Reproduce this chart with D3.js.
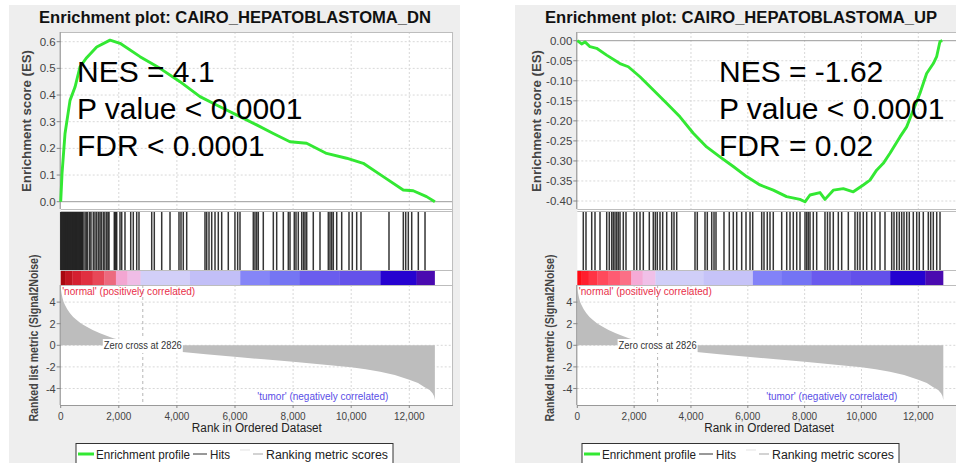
<!DOCTYPE html>
<html>
<head>
<meta charset="utf-8">
<script src="https://cdn.jsdelivr.net/npm/d3@7"></script>
<style>
  body { margin: 0; background: #fff; }
  svg text { font-family: "Liberation Sans", Arial, sans-serif; }
</style>
</head>
<body>
<div id="chart"></div>
<script>
// ---- data ----
var xTicks = [0, 2000, 4000, 6000, 8000, 10000, 12000];
var esTicksDn = [0, 0.1, 0.2, 0.3, 0.4, 0.5, 0.6];
var esTicksUp = [0, -0.05, -0.10, -0.15, -0.20, -0.25, -0.30, -0.35, -0.40];
var metricTicks = [4, 2, 0, -2, -4];
var zeroCross = 2826;

// running enrichment score, DN gene set
var esDnRanks = [0, 46, 149, 321, 493, 665, 894, 1239, 1698, 2042, 2730, 3418, 4106, 4795, 5483, 6171, 6744, 7318, 7891, 8465, 9153, 9841, 10415, 11103, 11791, 12135, 12594, 12881];
var esDnValues = [0, 0.106, 0.256, 0.38, 0.43, 0.506, 0.54, 0.58, 0.606, 0.594, 0.544, 0.50, 0.45, 0.394, 0.356, 0.319, 0.288, 0.256, 0.225, 0.219, 0.181, 0.163, 0.144, 0.094, 0.044, 0.041, 0.019, 0];

// running enrichment score, UP gene set
var esUpRanks = [0, 152, 270, 446, 680, 1032, 1501, 1795, 2205, 2675, 3144, 3613, 4082, 4551, 5020, 5490, 5959, 6428, 6897, 7366, 7835, 8012, 8188, 8540, 8716, 9009, 9360, 9712, 10064, 10299, 10533, 10768, 11003, 11355, 11590, 11824, 12059, 12293, 12528, 12645, 12762, 12844];
var esUpValues = [0, -0.008, -0.003, -0.015, -0.019, -0.036, -0.057, -0.065, -0.09, -0.123, -0.156, -0.19, -0.231, -0.265, -0.29, -0.314, -0.339, -0.36, -0.373, -0.389, -0.396, -0.402, -0.385, -0.379, -0.396, -0.373, -0.369, -0.377, -0.36, -0.348, -0.323, -0.306, -0.281, -0.24, -0.215, -0.173, -0.131, -0.082, -0.057, -0.04, -0.002, 0];

// positions of gene set members in the ranked list
var hitsDn = [0, 25, 50, 75, 100, 125, 150, 175, 200, 225, 250, 275, 300, 325, 350, 375, 400, 425, 450, 475, 500, 525, 550, 575, 600, 625, 650, 675, 700, 725, 750, 770,
  836, 880, 929, 1000, 1043, 1122, 1180, 1239, 1300, 1353, 1400, 1466, 1520, 1583, 1630, 1663, 1845, 1870, 1900, 1928, 2041, 2100, 2213, 2410, 2499, 2616, 2695,
  3133, 3222, 3477, 3763, 4072, 4141, 4220, 4337, 4967, 5026, 5105, 5198, 5312, 5425, 5542, 5769, 5998, 6091, 6172,
  6630, 6688, 6747, 6802, 6974, 7319, 7435, 7663, 7835, 7894, 8041, 8100, 8179, 8296, 8358, 8410, 8468, 8695, 8926,
  9212, 9270, 9329, 9384, 9501, 9673, 9924, 10038, 10189, 10337, 11301, 11794, 11876, 11966, 12083, 12310, 12541];
var hitsUp = [211, 306, 507, 623, 799, 1035, 1126, 1211, 1267, 1327, 1387, 1443, 1503, 1619, 1714, 1995, 2090, 2207, 2323, 2534, 2674, 2745, 2815, 2910, 3005,
  3146, 3322, 3403, 3498, 4142, 4223, 4494, 4575, 4730, 4811, 4881, 5162, 5349, 5490, 5609, 5785, 5937, 6078, 6173,
  6489, 6570, 6686, 6781, 6897, 7193, 7369, 7485, 7601, 7721, 7837, 8013, 8073, 8129, 8189, 8305, 8424, 8716, 8804, 8892,
  9009, 9185, 9304, 9537, 9772, 9860, 9948, 10064, 10184, 10360, 10476, 10652, 10828, 11064, 11145, 11240, 11331, 11416,
  11497, 11592, 11683, 11824, 11944, 12035, 12176, 12352, 12436, 12528, 12648, 12764];

// ranked list metric (Signal2Noise), shared by both plots
var metricRanks = [0, 30, 60, 100, 148, 220, 320, 430, 551, 700, 895, 1100, 1353, 1600, 1811, 2041, 2300, 2550, 2826, 3200, 3600, 4107, 5000, 6172, 7000, 8000, 9000, 10000, 10500, 11000, 11500, 12000, 12300, 12500, 12700, 12800, 12850, 12880];
var metricValues = [5.3, 4.8, 4.4, 4.0, 3.73, 3.35, 2.96, 2.62, 2.34, 2.02, 1.72, 1.42, 1.11, 0.86, 0.65, 0.49, 0.32, 0.16, 0, -0.15, -0.35, -0.59, -0.82, -1.11, -1.3, -1.52, -1.77, -2.04, -2.22, -2.44, -2.75, -3.2, -3.5, -3.83, -4.15, -4.44, -4.7, -5.06];

// heat bar under the hits: rank breaks and colours
var barBreaks = [0, 150, 400, 700, 1100, 1500, 1900, 2300, 2750, 4450, 6180, 7200, 8230, 9600, 11010, 12250, 12870];
var barColorsDn = ["#a80810", "#c01520", "#d42030", "#e03040", "#e84858", "#ec6a7e", "#f3a6d2", "#efbde6", "#d2cff8", "#c2bff7", "#8585f7", "#7575f3", "#6a5cee", "#6452ea", "#2602d0", "#4a0ab0"];
var barColorsUp = ["#ff0a14", "#ff1e2e", "#ff3444", "#ff4a5c", "#fe5c72", "#fb6f86", "#f5aad6", "#f0c0e8", "#d0cef8", "#c6c3f8", "#8282f8", "#7474f4", "#6a5aee", "#6350ea", "#2402d0", "#4a0ab0"];

var statsDn = ["NES = 4.1", "P value < 0.0001", "FDR < 0.0001"];
var statsUp = ["NES = -1.62", "P value < 0.0001", "FDR = 0.02"];

var W = 956, H = 463;

var svg = d3.select("#chart")
    .append("svg")
    .attr("width", W)
    .attr("height", H);

var panels = [
    { title: "Enrichment plot: CAIRO_HEPATOBLASTOMA_DN", bgX: 9, bgW: 451, plotL: 60.7, w12: 348.6,
      esDomain: [0, 0.6], esRange: [201.7, 41.7], esTicks: esTicksDn, esDigits: 1, esLabelX: 27,
      esRanks: esDnRanks, esValues: esDnValues, hits: hitsDn, barColors: barColorsDn,
      stats: statsDn, statsX: 77 },
    { title: "Enrichment plot: CAIRO_HEPATOBLASTOMA_UP", bgX: 515, bgW: 441, plotL: 577.3, w12: 341,
      esDomain: [0, -0.4], esRange: [40.7, 201], esTicks: esTicksUp, esDigits: 2, esLabelX: 537,
      esRanks: esUpRanks, esValues: esUpValues, hits: hitsUp, barColors: barColorsUp,
      stats: statsUp, statsX: 719 }
];

var esTop = 32, esBottom = 209, hitTop = 211, barTop = 270, barBottom = 285, rankBottom = 405;

function fmtTick(v, digits) {
    return v.toFixed(digits).replace("\u2212", "-");
}

function drawPanel(p) {
    var g = svg.append("g");
    var plotR = Math.min(p.plotL + p.w12 * 13505 / 12000, W + 5);

    var x = d3.scaleLinear().domain([0, 12000]).range([p.plotL, p.plotL + p.w12]);
    var yEs = d3.scaleLinear().domain(p.esDomain).range(p.esRange);
    var yMetric = d3.scaleLinear().domain([-4, 4]).range([388.5, 302.1]);

    // panel background
    g.append("rect")
        .attr("x", p.bgX).attr("y", 5)
        .attr("width", p.bgW).attr("height", H - 5)
        .attr("fill", "#eeeeee");

    g.append("text")
        .attr("x", p.bgX + 226).attr("y", 23)
        .attr("text-anchor", "middle")
        .attr("font-size", 16)
        .attr("font-weight", "bold")
        .attr("fill", "#111")
        .attr("textLength", 392)
        .attr("lengthAdjust", "spacingAndGlyphs")
        .text(p.title);

    // plot boxes
    g.append("rect")
        .attr("x", p.plotL).attr("y", esTop)
        .attr("width", plotR - p.plotL).attr("height", rankBottom - esTop)
        .attr("fill", "#fff");

    // ES gridlines
    g.selectAll(".vgridEs")
        .data(xTicks.slice(1))
        .enter().append("line")
        .attr("x1", function(d) { return x(d); }).attr("x2", function(d) { return x(d); })
        .attr("y1", esTop).attr("y2", esBottom)
        .attr("stroke", "#d8d8d8").attr("stroke-dasharray", "2,2");
    g.selectAll(".hgridEs")
        .data(p.esTicks.slice(1))
        .enter().append("line")
        .attr("x1", p.plotL).attr("x2", plotR)
        .attr("y1", function(d) { return yEs(d); }).attr("y2", function(d) { return yEs(d); })
        .attr("stroke", "#d8d8d8").attr("stroke-dasharray", "2,2");
    g.append("line")
        .attr("x1", p.plotL).attr("x2", plotR)
        .attr("y1", yEs(0)).attr("y2", yEs(0))
        .attr("stroke", "#9a9a9a");

    // ranked gridlines
    g.selectAll(".vgridRank")
        .data(xTicks.slice(1))
        .enter().append("line")
        .attr("x1", function(d) { return x(d); }).attr("x2", function(d) { return x(d); })
        .attr("y1", barBottom).attr("y2", rankBottom)
        .attr("stroke", "#d8d8d8").attr("stroke-dasharray", "2,2");
    g.selectAll(".hgridRank")
        .data(metricTicks)
        .enter().append("line")
        .attr("x1", p.plotL).attr("x2", plotR)
        .attr("y1", function(d) { return yMetric(d); }).attr("y2", function(d) { return yMetric(d); })
        .attr("stroke", "#d8d8d8").attr("stroke-dasharray", "2,2");

    // separators
    [esTop, esBottom, hitTop, barTop, barBottom].forEach(function(yy) {
        g.append("line")
            .attr("x1", p.plotL).attr("x2", plotR)
            .attr("y1", yy + 0.5).attr("y2", yy + 0.5)
            .attr("stroke", "#bdbdbd");
    });
    g.append("line")
        .attr("x1", p.plotL).attr("x2", plotR)
        .attr("y1", rankBottom + 0.5).attr("y2", rankBottom + 0.5)
        .attr("stroke", "#999");
    g.append("line")
        .attr("x1", plotR - 0.5).attr("x2", plotR - 0.5)
        .attr("y1", esTop).attr("y2", rankBottom)
        .attr("stroke", "#bdbdbd");

    // hits
    g.selectAll(".hit")
        .data(p.hits)
        .enter().append("line")
        .attr("x1", function(d) { return x(d); }).attr("x2", function(d) { return x(d); })
        .attr("y1", hitTop + 1).attr("y2", barTop)
        .attr("stroke", "#1f1f1f").attr("stroke-width", 1.5)
        .attr("stroke-opacity", 0.9);

    // heat bar
    g.selectAll(".bar")
        .data(p.barColors)
        .enter().append("rect")
        .attr("x", function(d, i) { return x(barBreaks[i]); })
        .attr("width", function(d, i) { return x(barBreaks[i + 1]) - x(barBreaks[i]) + 0.3; })
        .attr("y", barTop + 1).attr("height", barBottom - barTop - 1)
        .attr("fill", function(d) { return d; });

    // ranked metric fill
    var area = d3.area()
        .x(function(d) { return x(d[0]); })
        .y0(yMetric(0))
        .y1(function(d) { return yMetric(d[1]); });
    g.append("path")
        .datum(metricRanks.map(function(r, i) { return [r, metricValues[i]]; }))
        .attr("d", area)
        .attr("fill", "#bdbdbd");

    // zero cross marker
    g.append("line")
        .attr("x1", x(zeroCross)).attr("x2", x(zeroCross))
        .attr("y1", barBottom).attr("y2", rankBottom)
        .attr("stroke", "#b5b5b5").attr("stroke-dasharray", "3,3");
    g.append("rect")
        .attr("x", x(zeroCross) - 40).attr("y", 339)
        .attr("width", 80).attr("height", 14)
        .attr("fill", "#fff");
    g.append("text")
        .attr("x", x(zeroCross)).attr("y", 349)
        .attr("text-anchor", "middle")
        .attr("font-size", 10)
        .attr("fill", "#333")
        .attr("textLength", 78)
        .attr("lengthAdjust", "spacingAndGlyphs")
        .text("Zero cross at " + zeroCross);

    g.append("text")
        .attr("x", p.plotL + 1.5).attr("y", 295)
        .attr("font-size", 10.5)
        .attr("fill", "#e8304a")
        .attr("textLength", 133)
        .attr("lengthAdjust", "spacingAndGlyphs")
        .text("'normal' (positively correlated)");
    g.append("text")
        .attr("x", x(12000) - 21).attr("y", 400)
        .attr("text-anchor", "end")
        .attr("font-size", 10.5)
        .attr("fill", "#5a4ee6")
        .attr("textLength", 131)
        .attr("lengthAdjust", "spacingAndGlyphs")
        .text("'tumor' (negatively correlated)");

    // axes
    g.append("line")
        .attr("x1", p.plotL - 0.5).attr("x2", p.plotL - 0.5)
        .attr("y1", esTop).attr("y2", esBottom)
        .attr("stroke", "#888");
    g.append("line")
        .attr("x1", p.plotL - 0.5).attr("x2", p.plotL - 0.5)
        .attr("y1", barBottom).attr("y2", rankBottom)
        .attr("stroke", "#888");

    g.selectAll(".esTick")
        .data(p.esTicks)
        .enter().append("line")
        .attr("x1", p.plotL - 4).attr("x2", p.plotL)
        .attr("y1", function(d) { return yEs(d); }).attr("y2", function(d) { return yEs(d); })
        .attr("stroke", "#888");
    g.selectAll(".esLabel")
        .data(p.esTicks)
        .enter().append("text")
        .attr("x", p.plotL - 5).attr("y", function(d) { return yEs(d) + 4; })
        .attr("text-anchor", "end")
        .attr("font-size", 11.5)
        .attr("fill", "#444")
        .text(function(d) { return fmtTick(d, p.esDigits); });

    g.selectAll(".mTick")
        .data(metricTicks)
        .enter().append("line")
        .attr("x1", p.plotL - 4).attr("x2", p.plotL)
        .attr("y1", function(d) { return yMetric(d); }).attr("y2", function(d) { return yMetric(d); })
        .attr("stroke", "#888");
    g.selectAll(".mLabel")
        .data(metricTicks)
        .enter().append("text")
        .attr("x", p.plotL - 5).attr("y", function(d) { return yMetric(d) + 4; })
        .attr("text-anchor", "end")
        .attr("font-size", 11)
        .attr("fill", "#444")
        .text(function(d) { return String(d).replace("\u2212", "-"); });

    g.selectAll(".xTick")
        .data(xTicks)
        .enter().append("line")
        .attr("x1", function(d) { return x(d); }).attr("x2", function(d) { return x(d); })
        .attr("y1", rankBottom).attr("y2", rankBottom + 3)
        .attr("stroke", "#888");
    g.selectAll(".xLabel")
        .data(xTicks)
        .enter().append("text")
        .attr("x", function(d) { return x(d); }).attr("y", 420)
        .attr("text-anchor", "middle")
        .attr("font-size", 10)
        .attr("fill", "#444")
        .text(function(d) { return d3.format(",")(d); });

    g.append("text")
        .attr("x", (p.plotL + plotR) / 2).attr("y", 432)
        .attr("text-anchor", "middle")
        .attr("font-size", 12.5)
        .attr("fill", "#222")
        .attr("textLength", 130)
        .attr("lengthAdjust", "spacingAndGlyphs")
        .text("Rank in Ordered Dataset");

    g.append("text")
        .attr("transform", "translate(" + (p.esLabelX + 4) + ",121) rotate(-90)")
        .attr("text-anchor", "middle")
        .attr("font-size", 12)
        .attr("font-weight", "bold")
        .attr("fill", "#444")
        .attr("textLength", 142)
        .attr("lengthAdjust", "spacingAndGlyphs")
        .text("Enrichment score (ES)");
    g.append("text")
        .attr("transform", "translate(" + (p.plotL - 23) + ",338) rotate(-90)")
        .attr("text-anchor", "middle")
        .attr("font-size", 12)
        .attr("font-weight", "bold")
        .attr("fill", "#444")
        .attr("textLength", 167)
        .attr("lengthAdjust", "spacingAndGlyphs")
        .text("Ranked list metric (Signal2Noise)");

    // running enrichment score
    var line = d3.line()
        .x(function(d) { return x(d[0]); })
        .y(function(d) { return yEs(d[1]); });
    g.append("path")
        .datum(p.esRanks.map(function(r, i) { return [r, p.esValues[i]]; }))
        .attr("d", line)
        .attr("fill", "none")
        .attr("stroke", "#33e833")
        .attr("stroke-width", 2.9)
        .attr("stroke-linejoin", "round");

    // statistics overlay
    g.selectAll(".stat")
        .data(p.stats)
        .enter().append("text")
        .attr("x", p.statsX)
        .attr("y", function(d, i) { return 82 + i * 37; })
        .attr("font-size", 30)
        .attr("fill", "#000")
        .text(function(d) { return d; });

    // legend
    var lx = p.bgX + 67;
    g.append("rect")
        .attr("x", lx).attr("y", 443.5)
        .attr("width", 317).attr("height", 30)
        .attr("fill", "#fff").attr("stroke", "#333");
    g.append("line")
        .attr("x1", lx + 2).attr("x2", lx + 18).attr("y1", 454).attr("y2", 454)
        .attr("stroke", "#33e833").attr("stroke-width", 3);
    g.append("text")
        .attr("x", lx + 20).attr("y", 458.5)
        .attr("font-size", 12.5).attr("fill", "#222")
        .attr("textLength", 94).attr("lengthAdjust", "spacingAndGlyphs")
        .text("Enrichment profile");
    g.append("line")
        .attr("x1", lx + 117).attr("x2", lx + 131).attr("y1", 454).attr("y2", 454)
        .attr("stroke", "#333").attr("stroke-width", 1);
    g.append("text")
        .attr("x", lx + 134).attr("y", 458.5)
        .attr("font-size", 12.5).attr("fill", "#222")
        .attr("textLength", 20).attr("lengthAdjust", "spacingAndGlyphs")
        .text("Hits");
    g.append("line")
        .attr("x1", lx + 164).attr("x2", lx + 174).attr("y1", 450).attr("y2", 450)
        .attr("stroke", "#ececec").attr("stroke-width", 1.5);
    g.append("line")
        .attr("x1", lx + 177).attr("x2", lx + 187).attr("y1", 454).attr("y2", 454)
        .attr("stroke", "#c4c4c4").attr("stroke-width", 1.5);
    g.append("text")
        .attr("x", lx + 190).attr("y", 458.5)
        .attr("font-size", 12.5).attr("fill", "#222")
        .attr("textLength", 122).attr("lengthAdjust", "spacingAndGlyphs")
        .text("Ranking metric scores");
}

panels.forEach(drawPanel);
</script>
</body>
</html>
